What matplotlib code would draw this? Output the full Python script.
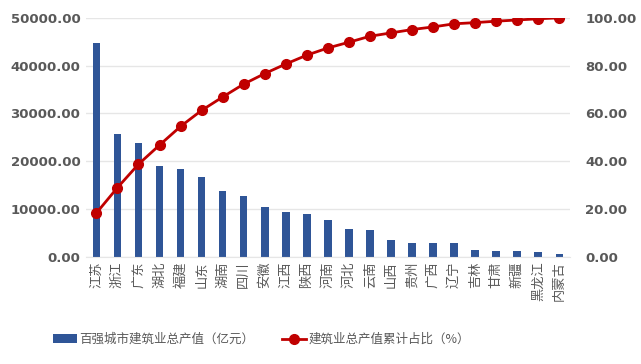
import numpy as np
import matplotlib
matplotlib.use('Agg')
import matplotlib.pyplot as plt

plt.rcParams['font.family'] = ['Noto Sans CJK SC', 'DejaVu Sans']

# provinces, output value (100m yuan) and cumulative share (%)
provinces = ['江苏', '浙江', '广东', '湖北', '福建', '山东', '湖南', '四川', '安徽', '江西', '陕西', '河南',
             '河北', '云南', '山西', '贵州', '广西', '辽宁', '吉林', '甘肃', '新疆', '黑龙江', '内蒙古']
output = [44800, 25700, 23800, 19100, 18400, 16700, 13900, 12700, 10400, 9400, 8900, 7700,
          5900, 5700, 3600, 3000, 3000, 3000, 1500, 1300, 1200, 1000, 600]
cum_share = [18.4, 29.0, 38.8, 46.8, 54.6, 61.3, 66.9, 72.3, 76.7, 80.7, 84.4, 87.4,
             89.8, 92.3, 93.7, 95.1, 96.2, 97.5, 98.0, 98.6, 99.1, 99.6, 100.0]

bar_label = '百强城市建筑业总产值（亿元）'
line_label = '建筑业总产值累计占比（%）'

gray = '#595959'
x = np.arange(len(provinces))

fig = plt.figure(figsize=(6.41, 3.64), dpi=100)
ax = fig.add_axes([0.134, 0.294, 0.755, 0.657])
ax2 = ax.twinx()

bars = ax.bar(x, output, width=0.36, color='#2F5597', zorder=2, label=bar_label)
line, = ax2.plot(x, cum_share, color='#C00000', lw=2, marker='o', ms=7, zorder=3, label=line_label)

ax.set_xlim(-0.5, len(provinces) - 0.5)
ax.set_ylim(0, 50000)
ax2.set_ylim(0, 100)
ax.set_yticks(np.arange(0, 50001, 10000))
ax2.set_yticks(np.arange(0, 101, 20))
ax.set_yticklabels(['%.2f' % v for v in ax.get_yticks()], family='DejaVu Sans', weight='bold')
ax2.set_yticklabels(['%.2f' % v for v in ax2.get_yticks()], family='DejaVu Sans', weight='bold')

ax.set_xticks(x)
ax.set_xticklabels(provinces, rotation=90, fontsize=9.5)

ax.yaxis.grid(True, color='#E6E6E6', lw=1, zorder=0)
ax.set_axisbelow(True)
for a in (ax, ax2):
    for s in a.spines.values():
        s.set_visible(False)
    a.tick_params(length=0, colors=gray, labelsize=9.5)
ax.spines['bottom'].set_visible(True)
ax.spines['bottom'].set_color('#E6E6E6')
ax.tick_params(axis='y', pad=4)
ax2.tick_params(axis='y', pad=11)
ax.tick_params(axis='x', pad=3)

fig.legend([bars, line], [bar_label, line_label], loc='center', bbox_to_anchor=(0.408, 0.067),
           ncol=2, frameon=False, fontsize=9, handlelength=1.9, handletextpad=0.2,
           columnspacing=2.2, labelcolor=gray)

fig.savefig('out.png', dpi=100)
